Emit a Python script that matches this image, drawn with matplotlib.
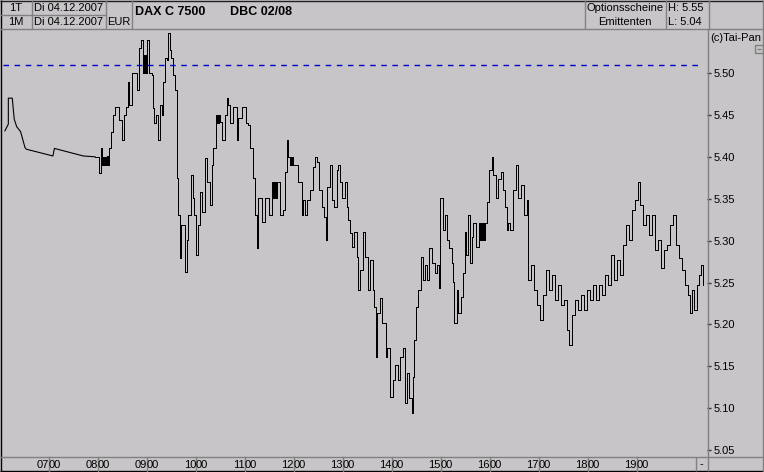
import matplotlib
matplotlib.use("Agg")
import matplotlib.pyplot as plt
from matplotlib.transforms import blended_transform_factory
from matplotlib.patches import Rectangle

# ---------------- data ----------------
# pre-market quotes (sparse, drawn as straight lines)
t0 = [6.10, 6.17, 6.17, 6.25, 6.29, 6.34, 6.42, 6.51, 6.54, 7.08, 7.11, 7.70, 7.94]
p0 = [5.431, 5.439, 5.470, 5.470, 5.445, 5.436, 5.430, 5.411, 5.409, 5.401, 5.410, 5.401, 5.400]

t1 = [7.94, 8.02, 8.06, 8.08, 8.10, 8.12, 8.14, 8.16, 8.18, 8.20, 8.22, 8.26, 8.31, 8.35,
      8.43, 8.49, 8.54, 8.57, 8.61, 8.64, 8.69, 8.80, 8.84, 8.87, 8.91, 8.92, 8.93, 8.94,
      8.95, 8.96, 8.97, 8.98, 8.99, 9.01, 9.04, 9.10, 9.12, 9.14, 9.18, 9.23, 9.27, 9.30,
      9.33, 9.37, 9.41, 9.43, 9.47, 9.50, 9.53, 9.57, 9.60]
p1 = [5.400, 5.381, 5.410, 5.390, 5.400, 5.390, 5.400, 5.390, 5.401, 5.390, 5.410, 5.430, 5.450, 5.459,
      5.444, 5.420, 5.450, 5.459, 5.489, 5.462, 5.500, 5.480, 5.530, 5.539, 5.510, 5.500, 5.521, 5.500,
      5.521, 5.500, 5.521, 5.500, 5.521, 5.539, 5.500, 5.498, 5.458, 5.440, 5.450, 5.420, 5.462, 5.450,
      5.489, 5.518, 5.516, 5.548, 5.527, 5.518, 5.498, 5.480, 5.480]

t2 = [9.61, 9.63, 9.67, 9.69, 9.73, 9.78, 9.81, 9.84, 9.89, 9.93, 9.96, 10.00, 10.04, 10.08,
      10.12, 10.15, 10.18, 10.22, 10.29, 10.32, 10.35, 10.41, 10.43, 10.44, 10.46, 10.47, 10.49,
      10.54, 10.59, 10.63, 10.66, 10.69, 10.76, 10.83, 10.86, 10.93, 10.98, 11.02, 11.07, 11.10,
      11.16, 11.20, 11.24, 11.27, 11.34, 11.41, 11.48, 11.55, 11.57, 11.58, 11.60, 11.61, 11.63,
      11.66, 11.71, 11.78, 11.82, 11.86]
p2 = [5.375, 5.331, 5.279, 5.319, 5.319, 5.263, 5.301, 5.331, 5.378, 5.351, 5.331, 5.283, 5.319, 5.358,
      5.334, 5.334, 5.399, 5.370, 5.342, 5.390, 5.410, 5.450, 5.440, 5.450, 5.440, 5.450, 5.442,
      5.420, 5.450, 5.470, 5.462, 5.440, 5.459, 5.420, 5.446, 5.459, 5.459, 5.440, 5.438, 5.410,
      5.375, 5.331, 5.291, 5.351, 5.322, 5.351, 5.331, 5.370, 5.351, 5.370, 5.351, 5.370, 5.351,
      5.370, 5.331, 5.337, 5.382, 5.420]

t3 = [11.88, 11.92, 11.93, 11.95, 11.96, 11.98, 12.02, 12.08, 12.16, 12.19, 12.22, 12.27, 12.33,
      12.39, 12.43, 12.46, 12.51, 12.57, 12.61, 12.65, 12.67, 12.73, 12.77, 12.82, 12.87, 12.90,
      12.94, 12.99, 13.04, 13.08, 13.11, 13.14, 13.18, 13.22, 13.28, 13.30, 13.35, 13.40, 13.45,
      13.52, 13.55, 13.61, 13.64, 13.67, 13.70, 13.76, 13.79, 13.84, 13.88, 13.90, 13.96, 14.03,
      14.06, 14.13, 14.16, 14.23, 14.27, 14.30, 14.35, 14.40, 14.42, 14.45, 14.50]
p3 = [5.400, 5.390, 5.400, 5.390, 5.400, 5.390, 5.390, 5.370, 5.331, 5.348, 5.331, 5.348, 5.360,
      5.388, 5.400, 5.394, 5.360, 5.340, 5.328, 5.301, 5.364, 5.390, 5.348, 5.340, 5.384, 5.390,
      5.370, 5.351, 5.370, 5.340, 5.325, 5.309, 5.292, 5.310, 5.280, 5.241, 5.265, 5.310, 5.280,
      5.241, 5.277, 5.241, 5.221, 5.161, 5.214, 5.232, 5.202, 5.202, 5.161, 5.172, 5.113, 5.134,
      5.152, 5.134, 5.161, 5.172, 5.106, 5.142, 5.112, 5.094, 5.137, 5.181, 5.221]

t4 = [14.54, 14.59, 14.64, 14.67, 14.71, 14.76, 14.81, 14.88, 14.92, 14.97, 14.99, 15.05, 15.08,
      15.13, 15.17, 15.22, 15.24, 15.27, 15.32, 15.35, 15.40, 15.45, 15.49, 15.52, 15.56, 15.59,
      15.63, 15.66, 15.71, 15.78, 15.80, 15.81, 15.83, 15.85, 15.87, 15.90, 15.93, 15.99, 16.04,
      16.07, 16.12, 16.17, 16.22, 16.26, 16.31, 16.34, 16.37, 16.41]
p4 = [5.241, 5.280, 5.253, 5.271, 5.253, 5.291, 5.273, 5.261, 5.271, 5.243, 5.351, 5.313, 5.331,
      5.301, 5.291, 5.273, 5.251, 5.202, 5.241, 5.214, 5.233, 5.261, 5.310, 5.283, 5.331, 5.273,
      5.304, 5.321, 5.292, 5.321, 5.301, 5.321, 5.301, 5.321, 5.301, 5.321, 5.346, 5.384, 5.400,
      5.378, 5.351, 5.373, 5.382, 5.360, 5.340, 5.313, 5.321, 5.313]

t5 = [16.47, 16.53, 16.57, 16.63, 16.69, 16.76, 16.78, 16.84, 16.90, 16.96, 17.02, 17.08, 17.14,
      17.20, 17.27, 17.33, 17.39, 17.45, 17.51, 17.57, 17.61, 17.67, 17.73, 17.80, 17.86, 17.92,
      17.98, 18.04, 18.10, 18.16, 18.22, 18.29, 18.35, 18.41, 18.47, 18.53, 18.59, 18.65, 18.71,
      18.78, 18.84, 18.90, 18.96, 19.02, 19.06, 19.12, 19.18, 19.24, 19.31, 19.37, 19.43, 19.49,
      19.55, 19.61, 19.67, 19.73, 19.80, 19.86, 19.92, 19.98, 20.04, 20.08, 20.12, 20.16, 20.22,
      20.27, 20.31, 20.35]
p5 = [5.360, 5.390, 5.351, 5.366, 5.331, 5.348, 5.253, 5.271, 5.241, 5.223, 5.205, 5.235, 5.265,
      5.241, 5.259, 5.229, 5.247, 5.223, 5.229, 5.193, 5.175, 5.211, 5.229, 5.217, 5.235, 5.217,
      5.241, 5.229, 5.247, 5.229, 5.247, 5.235, 5.259, 5.247, 5.283, 5.253, 5.277, 5.259, 5.295,
      5.319, 5.301, 5.337, 5.348, 5.370, 5.342, 5.319, 5.331, 5.307, 5.331, 5.289, 5.301, 5.267,
      5.289, 5.295, 5.319, 5.331, 5.295, 5.279, 5.265, 5.247, 5.235, 5.214, 5.241, 5.217, 5.247,
      5.259, 5.271, 5.247]

ref_level = 5.51
hour_ticks = [7, 8, 9, 10, 11, 12, 13, 14, 15, 16, 17, 18, 19]
price_ticks = [5.05, 5.10, 5.15, 5.20, 5.25, 5.30, 5.35, 5.40, 5.45, 5.50]
x_range = (6.061, 20.43)
y_range = (5.0442, 5.5525)
high_label, low_label = 5.55, 5.04

times = t1 + t2 + t3 + t4 + t5
prices = p1 + p2 + p3 + p4 + p5

# ---------------- layout ----------------
W, H = 764, 472
BG = '#c8c5c8'
GR = '#808080'
FONT = 'Liberation Sans'
plt.rcParams['font.family'] = [FONT, 'DejaVu Sans']

fig = plt.figure(figsize=(W / 100, H / 100), dpi=100, facecolor=BG)

# plot area in pixels: x 3..707, y 29..455
L, R, T, B = 3, 707, 29, 455
ax = fig.add_axes([L / W, (H - B) / H, (R - L) / W, (B - T) / H])
ax.set_facecolor(BG)
ax.set_xlim(*x_range)
ax.set_ylim(*y_range)
for s in ax.spines.values():
    s.set_visible(False)
ax.set_xticks([])
ax.yaxis.tick_right()
ax.set_yticks(price_ticks)
ax.set_yticklabels([f"{v:.2f}" for v in price_ticks])
ax.tick_params(axis='y', length=3, width=1, color='#303030', pad=1.5, labelsize=8,
               labelcolor='black')

ax.plot(t0, p0, color='black', lw=0.8, antialiased=True)
ax.plot(times, prices, color='black', lw=0.5, drawstyle='steps-post', antialiased=False)
ax.axhline(ref_level, xmin=0, xmax=0.994, color='#0000c8', lw=1.0, ls=(0, (4, 4)))

# overlay in pixel coords
ov = fig.add_axes([0, 0, 1, 1])
ov.set_xlim(0, W)
ov.set_ylim(H, 0)
ov.axis('off')


def hl(y, x0, x1, c=GR, lw=1):
    ov.plot([x0, x1], [y, y], color=c, lw=lw, solid_capstyle='butt')


def vl(x, y0, y1, c=GR, lw=1):
    ov.plot([x, x], [y0, y1], color=c, lw=lw, solid_capstyle='butt')


# outer frame
vl(0.5, 0, H, c='black')
hl(0.5, 0, W, c='#202020')
hl(H - 1, 0, W, c='black')
vl(W - 1.5, 0, H, c=GR)

# header
hl(14.5, 0, 105.5)
hl(28.5, 0, W)
for x in (31.5, 105.5, 131.5, 584.5, 665.5, 708.5):
    vl(x, 0, 28.5)
fs = 8
ov.text(16, 8, '1T', ha='center', va='center', fontsize=fs)
ov.text(16, 22, '1M', ha='center', va='center', fontsize=fs)
ov.text(34, 8, 'Di 04.12.2007', ha='left', va='center', fontsize=fs)
ov.text(34, 22, 'Di 04.12.2007', ha='left', va='center', fontsize=fs)
ov.text(107.5, 22, 'EUR', ha='left', va='center', fontsize=fs)
ov.text(135, 12, 'DAX C 7500', ha='left', va='center', fontsize=9, fontweight='bold')
ov.text(230, 12, 'DBC 02/08', ha='left', va='center', fontsize=9, fontweight='bold')
ov.text(625, 8, 'Optionsscheine', ha='center', va='center', fontsize=fs)
ov.text(625, 22, 'Emittenten', ha='center', va='center', fontsize=fs)
ov.text(667.5, 8, f'H: {high_label:.2f}', ha='left', va='center', fontsize=fs)
ov.text(667.5, 22, f'L: {low_label:.2f}', ha='left', va='center', fontsize=fs)

# right axis area
vl(R + 0.5, T, H - 1)
ov.text(710, 38, '(c)Tai-Pan', ha='left', va='center', fontsize=fs)
ov.add_patch(Rectangle((754.5, 44.5), 8, 8, fill=False, ec=GR, lw=1))
hl(48.5, 756.5, 760.5, c=GR)

# bottom time axis band
hl(456.5, 0, W)
tr = blended_transform_factory(ax.transData, ov.transData)
for hr in hour_ticks:
    ov.plot([hr, hr], [457, H - 1], color=GR, lw=1, transform=tr)
    ov.text(hr, 464.5, f'{hr:02d}', ha='right', va='center', fontsize=fs, transform=tr)
    ov.text(hr, 464.5, '00', ha='left', va='center', fontsize=fs, transform=tr)
vl(695.5, 457, H - 1)
ov.text(701.5, 464.5, '-', ha='center', va='center', fontsize=fs)

fig.savefig('out.png', dpi=100, facecolor=BG)
